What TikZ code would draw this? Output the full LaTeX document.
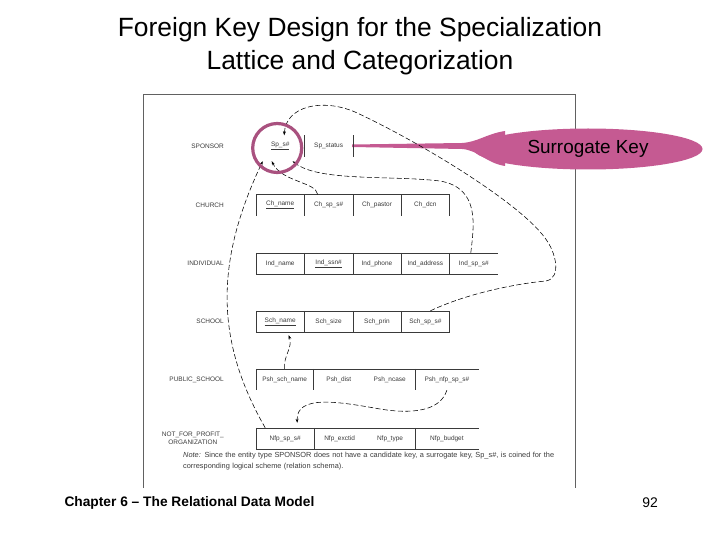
\documentclass[tikz,border=0pt]{standalone}
\usepackage{fontspec}
\setmainfont{Liberation Sans}
\usetikzlibrary{positioning, arrows.meta, shapes.geometric}
\definecolor{keyPink}{HTML}{C55A92}
\definecolor{ringPink}{HTML}{A9517F}
\definecolor{figInk}{HTML}{3A3A3A}

\begin{document}
\begin{tikzpicture}[x=1bp, y=-1bp, >=Stealth,
    cell/.style={minimum width=48bp, minimum height=21bp, inner sep=0pt, text=figInk,
                 font=\fontsize{6.5}{7.5}\selectfont},
    ent/.style={anchor=east, inner sep=0pt, align=center, text=figInk,
                font=\fontsize{6.5}{7.5}\selectfont},
    tbl/.style={draw=figInk, line width=0.6bp},
    fk/.style={-{Stealth[length=4bp, width=3bp]}, dash pattern=on 5bp off 2.5bp, line width=0.55bp}]
  \useasboundingbox (0,0) rectangle (720,540);

  % title and footer
  \node[font=\fontsize{26.5}{33}\selectfont, align=center] (title) at (360,46)
       {Foreign Key Design for the Specialization\\Lattice and Categorization};
  \node[font=\bfseries\fontsize{13.8}{15}\selectfont, anchor=west] (chap) at (61,503)
       {Chapter 6 -- The Relational Data Model};
  \node[font=\fontsize{14}{15}\selectfont] (page) at (650,503) {92};

  % figure frame
  \draw[draw=figInk!80, line width=0.8bp] (143,488) -- (143,94) -- (575,94) -- (575,488);

  % callout tail
  \fill[keyPink] (352,144.5) -- (462,143) .. controls (478,142) and (486,134) .. (505,131)
       -- (505,166) .. controls (486,163) and (478,150) .. (462,149) -- (352,147) -- cycle;

  % entity names
  \node[ent] (sponsor) at (224,146)   {SPONSOR};
  \node[ent] (church)  at (224,205)   {CHURCH};
  \node[ent] (indiv)   at (224,263.5) {INDIVIDUAL};
  \node[ent] (school)  at (224,321.5) {SCHOOL};
  \node[ent] (pubsch)  at (224,379.5) {PUBLIC\_SCHOOL};
  \node[ent] (nfporg)  at (224,438.5) {NOT\_FOR\_PROFIT\_\\ORGANIZATION};

  % SPONSOR
  \node[cell, anchor=west] (sp1) at (256,146) {\underline{Sp\_s\#}};
  \node[cell, right=0pt of sp1] (sp2) {Sp\_status};
  \draw[tbl] (sp1.north east) -- (sp1.south east) (sp2.north east) -- (sp2.south east);

  % CHURCH
  \node[cell, anchor=west] (ch1) at (256,205) {\underline{Ch\_name}};
  \node[cell, right=0pt of ch1] (ch2) {Ch\_sp\_s\#};
  \node[cell, right=0pt of ch2] (ch3) {Ch\_pastor};
  \node[cell, right=0pt of ch3] (ch4) {Ch\_dcn};
  \draw[tbl] (ch1.north west) -- (ch4.north east);
  \foreach \c in {ch1,ch2,ch3,ch4} \draw[tbl] (\c.north west) -- (\c.south west);
  \draw[tbl] (ch4.north east) -- (ch4.south east);

  % INDIVIDUAL
  \node[cell, anchor=west] (in1) at (256,263.5) {Ind\_name};
  \node[cell, right=0pt of in1] (in2) {\underline{Ind\_ssn\#}};
  \node[cell, right=0pt of in2] (in3) {Ind\_phone};
  \node[cell, right=0pt of in3] (in4) {Ind\_address};
  \node[cell, right=0pt of in4] (in5) {Ind\_sp\_s\#};
  \draw[tbl] (in1.north west) -- (in5.north east) (in1.south west) -- (in5.south east);
  \foreach \c in {in1,in2,in3,in4,in5} \draw[tbl] (\c.north west) -- (\c.south west);

  % SCHOOL
  \node[cell, anchor=west] (sc1) at (256,321.5) {\underline{Sch\_name}};
  \node[cell, right=0pt of sc1] (sc2) {Sch\_size};
  \node[cell, right=0pt of sc2] (sc3) {Sch\_prin};
  \node[cell, right=0pt of sc3] (sc4) {Sch\_sp\_s\#};
  \draw[tbl] (sc1.north west) -- (sc4.north east) (sc1.south west) -- (sc4.south east);
  \foreach \c in {sc1,sc2,sc3,sc4} \draw[tbl] (\c.north west) -- (\c.south west);
  \draw[tbl] (sc4.north east) -- (sc4.south east);

  % PUBLIC_SCHOOL
  \node[cell, anchor=west, minimum width=57bp] (ps1) at (256,379.5) {Psh\_sch\_name};
  \node[cell, right=0pt of ps1, minimum width=50.5bp] (ps2) {Psh\_dist};
  \node[cell, right=0pt of ps2, minimum width=50.5bp] (ps3) {Psh\_ncase};
  \node[cell, right=0pt of ps3, minimum width=63bp] (ps4) {Psh\_nfp\_sp\_s\#};
  \draw[tbl] (ps1.north west) -- (ps4.north east);
  \foreach \c in {ps1,ps2,ps4} \draw[tbl] (\c.north west) -- (\c.south west);

  % NOT_FOR_PROFIT_ORGANIZATION
  \node[cell, anchor=west, minimum width=58bp] (nf1) at (256,438.5) {Nfp\_sp\_s\#};
  \node[cell, right=0pt of nf1, minimum width=50bp] (nf2) {Nfp\_exctid};
  \node[cell, right=0pt of nf2, minimum width=50bp] (nf3) {Nfp\_type};
  \node[cell, right=0pt of nf3, minimum width=63bp] (nf4) {Nfp\_budget};
  \draw[tbl] (nf1.north west) -- (nf4.north east) (nf1.south west) -- (nf4.south east);
  \foreach \c in {nf1,nf2,nf4} \draw[tbl] (\c.north west) -- (\c.south west);

  % note
  \node[anchor=north west, inner sep=0pt, text width=400bp, text=figInk,
        font=\fontsize{7.4}{11}\selectfont] (note) at (183,452)
       {\hangindent=25bp\hangafter=1\textit{Note:} Since the entity type SPONSOR does not have a candidate key, a surrogate key, Sp\_s\#, is coined for the\newline
        corresponding logical scheme (relation schema).};

  % foreign keys
  \draw[fk] ([xshift=5bp]sc4.north) .. controls (470,292) and (522,283) .. (546,281)
       .. controls (562,278) and (556,252) .. (545,238)
       .. controls (520,203) and (420,142) .. (355,112)
       .. controls (322,98) and (286,106) .. ([xshift=4bp]sp1.north);
  \draw[fk] ([xshift=-3bp]in5.north) .. controls (474,225) and (480,188) .. (440,181)
       .. controls (390,175) and (318,182) .. ([shift={(12.5,4.5)}]sp1.south);
  \draw[fk] ([xshift=-11bp]ch2.north) .. controls (316,182) and (282,182) .. ([shift={(-8.5,4.5)}]sp1.south);
  \draw[fk] ([xshift=-20bp]nf1.north) .. controls (215,340) and (215,262) .. ([shift={(-17.5,4.5)}]sp1.south);
  \draw[fk] (ps4.south) .. controls (440,412) and (410,414) .. (380,409)
       .. controls (340,402) and (296,394) .. ([shift={(12,-5)}]nf1.north);
  \draw[fk] (ps1.north) .. controls (283,356) and (293,348) .. ([shift={(8.5,3)}]sc1.south);

  % surrogate key callout
  \node[circle, draw=ringPink, line width=3.2bp, minimum size=49bp] (ring) at ([shift={(-3,2)}]sp1.center) {};
  \node[ellipse, fill=keyPink, minimum width=229bp, minimum height=41bp,
        font=\fontsize{19}{21}\selectfont] (surr) at (588,149) {Surrogate Key};
\end{tikzpicture}
\end{document}
